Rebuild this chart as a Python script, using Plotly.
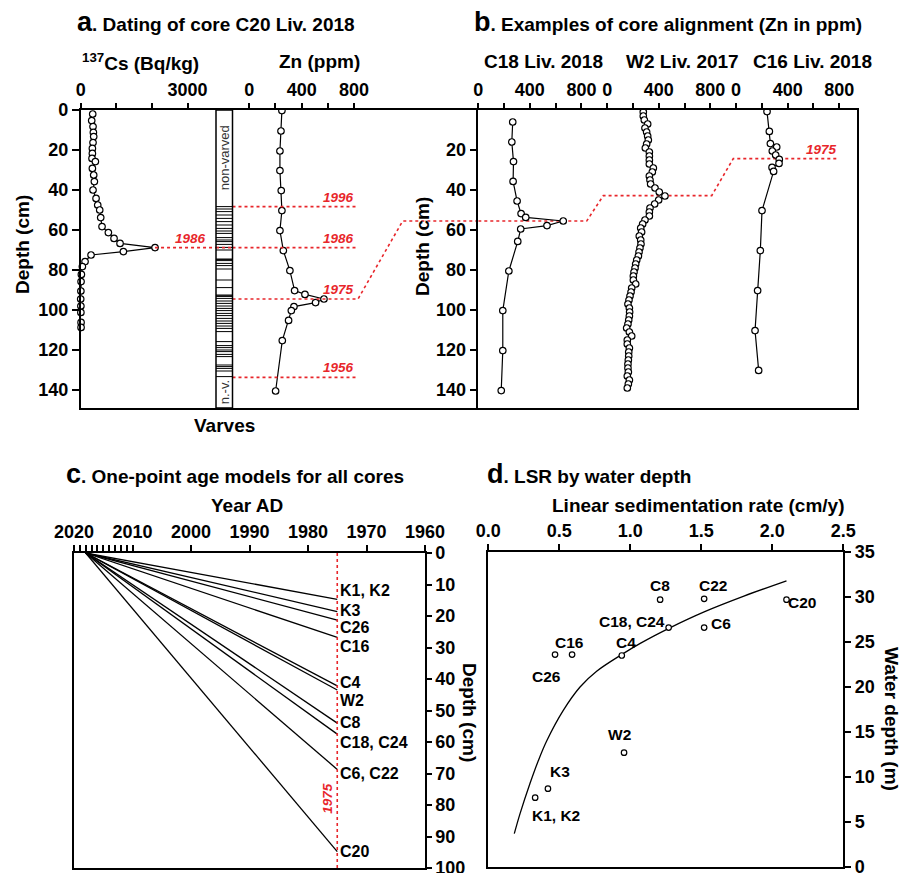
import plotly.graph_objects as go

W, H = 910, 873
FONT = "Liberation Sans, Arial, sans-serif"
RED = "#e8262b"


def px(x):
    return x / W


def py(y):
    return 1 - y / H


# ---------------- Panel a: core C20 ----------------
cs_depth = [2.0, 5.3, 8.3, 11.2, 13.3, 16.3, 19.2, 21.7, 24.2, 25.8, 29.2, 32.5, 35.8, 40.0,
            44.2, 47.5, 50.0, 53.8, 58.3, 61.3, 64.2, 66.7, 68.8, 70.8, 72.5, 75.8, 78.3,
            82.2, 85.8, 90.5, 94.5, 98.0, 101.2, 104.8, 106.2, 108.7, 113.8, 117.8]
cs_value = [337, 309, 346, 356, 365, 346, 328, 328, 318, 412, 328, 365, 384, 346,
            431, 478, 534, 562, 599, 777, 936, 1105, 2088, 1199, 290, 122, 47,
            19, 10, 5, 0, 5, 5, -20, 10, 10, -30, -30]

zn_a_depth = [0.3, 10.5, 20.5, 30.3, 40.3, 50.3, 60.3, 70.3, 80.3, 90.3, 92.2, 94.5, 96.3,
              98.3, 100.3, 105.2, 115.3, 140.5]
zn_a_value = [249, 242, 234, 234, 244, 249, 234, 260, 310, 346, 425, 570, 506,
              341, 321, 300, 252, 201]

varve_depths = [48.3, 49.5, 50.8, 52.5, 54.2, 55.8, 57.5, 59.2, 60.5, 61.7, 63.8, 65.0, 65.8,
                67.2, 68.7, 70.0, 74.5, 74.8, 75.3, 76.7, 77.8, 79.5, 85.0, 88.8, 92.5, 92.9,
                93.2, 94.2, 95.5, 96.7, 98.0, 99.2, 100.3, 101.7, 102.8, 104.2, 105.5, 106.7,
                108.0, 109.2, 110.8, 115.8, 117.8, 118.8, 120.0, 120.8, 122.2, 123.3, 127.5,
                128.3, 129.2, 130.5, 133.3]

# dated horizons in panel a (depth, label)
horizon_years = ["1996", "1986", "1975", "1956"]
horizon_depths = [48.3, 68.8, 94.5, 133.7]

# ---------------- Panel b: core alignment ----------------
c18_depth = [6.0, 16.0, 25.8, 35.7, 45.5, 51.8, 53.7, 55.5, 57.8, 59.5, 65.7, 80.5, 100.3, 120.3, 140.3]
c18_zn = [267, 260, 273, 270, 301, 332, 368, 659, 533, 329, 306, 237, 190, 190, 178]

w2_depth = [1, 3, 5, 7, 9, 11, 13, 15, 17, 19, 21, 23, 25, 27, 29, 31, 33, 35, 37, 39,
            41, 43, 45, 47, 49, 51, 53, 55, 57, 59, 61, 63, 65, 67, 69, 71, 73, 75, 77, 79,
            81, 83, 85, 87, 89, 91, 93, 95, 97, 99, 101, 103, 105, 107, 109, 111, 113, 115,
            117, 119, 121, 123, 125, 127, 129, 131, 133, 135, 137, 139]
w2_zn = [280, 280, 288, 314, 293, 306, 314, 319, 306, 296, 327, 327, 327, 327, 358, 350,
         327, 332, 337, 371, 404, 448, 399, 368, 332, 327, 327, 293, 275, 260, 267, 249,
         260, 262, 254, 247, 242, 229, 221, 216, 208, 203, 203, 221, 190, 185, 177, 169,
         161, 172, 174, 172, 167, 161, 151, 172, 190, 156, 156, 172, 167, 167, 164, 161,
         161, 164, 156, 172, 164, 156]

c16_depth = [0.8, 10.7, 16.8, 18.5, 20.5, 22.5, 24.7, 26.7, 28.7, 30.7, 50.3, 70.3, 90.3, 110.3, 130.2]
c16_zn = [240, 258, 266, 315, 281, 307, 335, 333, 279, 291, 201, 188, 167, 147, 175]

core_offsets = [0, 1000, 2000]  # each core shares one 0-1000 ppm slot on the axis
b_titles = ["C18 Liv. 2018", "W2 Liv. 2017", "C16 Liv. 2018"]
b_1975_depths = [55.5, 42.8, 24.3]

# ---------------- Panel c: one-point age models ----------------
core_names = ["K1, K2", "K3", "C26", "C16", "C4", "W2", "C8", "C18, C24", "C6, C22", "C20"]
depth_1975 = [14.7, 18.6, 21.3, 26.8, 42.2, 43.5, 54.0, 57.5, 68.7, 94.8]
label_depth = [12.0, 18.1, 23.7, 29.8, 41.2, 46.7, 53.9, 60.2, 69.9, 94.8]
core_year = 2018
marker_year = 1975

# ---------------- Panel d: LSR by water depth ----------------
d_names = ["K1, K2", "K3", "C26", "C16", "C4", "W2", "C8", "C18, C24", "C6", "C22", "C20"]
lsr = [0.33, 0.42, 0.47, 0.59, 0.94, 0.956, 1.21, 1.27, 1.52, 1.52, 2.10]
water_depth = [7.7, 8.7, 23.6, 23.6, 23.5, 12.7, 29.7, 26.6, 26.6, 29.8, 29.7]
d_label_x = [0.477, 0.505, 0.41, 0.575, 0.97, 0.927, 1.21, 1.01, 1.64, 1.585, 2.207]
d_label_y = [5.7, 10.6, 21.2, 25.0, 25.0, 14.7, 31.3, 27.3, 27.1, 31.3, 29.4]
fit_lsr = [0.183, 0.223, 0.294, 0.352, 0.411, 0.528, 0.646, 0.763, 0.944, 1.07, 1.275, 1.52, 1.8, 2.10]
fit_depth = [3.7, 5.9, 9.3, 11.8, 14.0, 17.4, 20.0, 21.75, 23.65, 24.85, 26.55, 28.35, 30.1, 31.8]

# ---------------------------------------------------------------
fig = go.Figure()

mk = dict(symbol="circle", size=6.5, color="white", line=dict(color="black", width=1.2))
ln = dict(color="black", width=1.2)
red_dot = dict(color=RED, width=1.6, dash="dot")

# panel a profiles
fig.add_trace(go.Scatter(x=cs_value, y=cs_depth, xaxis="x", yaxis="y", mode="lines+markers",
                         line=ln, marker=mk, cliponaxis=False))
vx, vy = [], []
for d in varve_depths:
    vx += [0, 1, None]
    vy += [d, d, None]
fig.add_trace(go.Scatter(x=vx, y=vy, xaxis="x2", yaxis="y", mode="lines",
                         line=dict(color="black", width=1)))
fig.add_trace(go.Scatter(x=zn_a_value, y=zn_a_depth, xaxis="x3", yaxis="y", mode="lines+markers",
                         line=ln, marker=mk))

# red horizons, panel a
zn_left, zn_end = -128, 815
for yr, d in zip(horizon_years, horizon_depths):
    if yr == "1975":
        continue
    fig.add_trace(go.Scatter(x=[zn_left, zn_end], y=[d, d], xaxis="x3", yaxis="y",
                             mode="lines", line=red_dot))
# 1986 also through Cs panel and varve column
fig.add_trace(go.Scatter(x=[max(cs_value), 3800], y=[68.8, 68.8], xaxis="x", yaxis="y",
                         mode="lines", line=red_dot))
fig.add_trace(go.Scatter(x=[0, 1], y=[68.8, 68.8], xaxis="x2", yaxis="y",
                         mode="lines", line=red_dot))
# 1975 connector from C20 to panel b
link_a_x = [zn_left, 830, 1171, 1760]
link_a_y = [94.5, 94.5, 55.5, 55.5]
fig.add_trace(go.Scatter(x=link_a_x, y=link_a_y, xaxis="x3", yaxis="y", mode="lines", line=red_dot))
link_b_x = [0, 841, 970, 1811, 1978, 2780]
link_b_y = [55.5, 55.5, 42.8, 42.8, 24.3, 24.3]
fig.add_trace(go.Scatter(x=link_b_x, y=link_b_y, xaxis="x4", yaxis="y2", mode="lines", line=red_dot))

# panel b profiles
for dep, val, off in zip([c18_depth, w2_depth, c16_depth], [c18_zn, w2_zn, c16_zn], core_offsets):
    fig.add_trace(go.Scatter(x=[v + off for v in val], y=dep, xaxis="x4", yaxis="y2",
                             mode="lines+markers", line=ln, marker=mk))

# panel c
cx, cy = [], []
for d in depth_1975:
    cx += [core_year, marker_year, None]
    cy += [0, d, None]
fig.add_trace(go.Scatter(x=cx, y=cy, xaxis="x5", yaxis="y3", mode="lines",
                         line=dict(color="black", width=1.3)))
fig.add_trace(go.Scatter(x=[marker_year, marker_year], y=[0, 100], xaxis="x5", yaxis="y3",
                         mode="lines", line=red_dot))

# panel d
fig.add_trace(go.Scatter(x=fit_lsr, y=fit_depth, xaxis="x6", yaxis="y4", mode="lines",
                         line=dict(color="black", width=1.3, shape="spline", smoothing=1.0)))
fig.add_trace(go.Scatter(x=lsr, y=water_depth, xaxis="x6", yaxis="y4", mode="markers",
                         marker=dict(symbol="circle", size=5.5, color="white",
                                     line=dict(color="black", width=1.2))))

# ---------------- axes ----------------
tickfont = dict(family=FONT, size=18, color="black", weight="bold")
base = dict(showgrid=False, zeroline=False, showline=True, linecolor="black", linewidth=1.5,
            ticks="outside", tickcolor="black", tickwidth=1.5, tickfont=tickfont, fixedrange=True,
            automargin=False, ticklabeloverflow="allow")

ya_dom = [py(408), py(110)]
b_tickvals = list(range(0, 2801, 200))
b_ticktext = []
for v in b_tickvals:
    r = v % 1000
    b_ticktext.append(str(r) if r in (0, 400, 800) else "")

c_tickvals = list(range(2020, 2009, -1)) + [2000, 1990, 1980, 1970, 1960]
c_ticktext = [str(v) if v % 10 == 0 else "" for v in c_tickvals]

fig.update_layout(
    width=W, height=H, margin=dict(l=0, r=0, t=0, b=0, pad=0, autoexpand=False),
    paper_bgcolor="white", plot_bgcolor="white", showlegend=False,
    font=dict(family=FONT, size=19, color="black", weight="bold"),
    xaxis=dict(base, domain=[px(80.7), px(216)], range=[0, 3800], side="top", anchor="y", mirror=True,
               tickvals=[0, 1000, 2000, 3000], ticktext=["0", "", "", "3000"], ticklen=5),
    xaxis2=dict(base, domain=[px(216), px(232.5)], range=[0, 1], side="top", anchor="y", mirror=True,
                showticklabels=False, ticks=""),
    xaxis3=dict(base, domain=[px(232.5), px(478.3)], range=[-128, 1748], side="top", anchor="y",
                mirror=True, tickvals=[0, 200, 400, 600, 800], ticktext=["0", "", "400", "", "800"],
                ticklen=5),
    yaxis=dict(base, domain=ya_dom, range=[149, 0], anchor="x", tickvals=list(range(0, 141, 20)),
               ticklen=7),
    xaxis4=dict(base, domain=[px(478.3), px(857)], range=[0, 2938], side="top", anchor="y2",
                mirror=True, tickvals=b_tickvals, ticktext=b_ticktext, ticklen=5),
    yaxis2=dict(base, domain=ya_dom, range=[149, 0], anchor="x4", mirror=True,
                tickvals=list(range(20, 141, 20)), ticklen=7),
    xaxis5=dict(base, domain=[px(74), px(425)], range=[2020, 1960], side="top", anchor="y3",
                mirror=True, tickvals=c_tickvals, ticktext=c_ticktext, ticklen=6),
    yaxis3=dict(base, domain=[py(868), py(553)], range=[100, 0], side="right", anchor="x5",
                mirror=True, tickvals=list(range(0, 101, 10)), ticklen=5),
    xaxis6=dict(base, domain=[px(488.3), px(843.3)], range=[0, 2.5], side="top", anchor="y4",
                mirror=True, tickvals=[0, 0.5, 1.0, 1.5, 2.0, 2.5],
                ticktext=["0.0", "0.5", "1.0", "1.5", "2.0", "2.5"], ticklen=6),
    yaxis4=dict(base, domain=[py(867), py(552)], range=[0, 35], side="right", anchor="x6",
                mirror=True, tickvals=list(range(0, 36, 5)), ticklen=6),
)

# ---------------- annotations ----------------
ann = []
bold19 = dict(family=FONT, size=19, color="black", weight="bold")


def paper_text(text, x, y, xanchor="center", angle=0, font=bold19):
    ann.append(dict(text=text, x=px(x), y=py(y), xref="paper", yref="paper", showarrow=False,
                    xanchor=xanchor, yanchor="middle", textangle=angle, font=font))


big = "<span style='font-size:27px'>%s</span>"
paper_text(big % "a" + ". Dating of core C20 Liv. 2018", 75, 22, "left")
paper_text(big % "b" + ". Examples of core alignment (Zn in ppm)", 472, 22, "left")
paper_text(big % "c" + ". One-point age models for all cores", 64, 474, "left")
paper_text(big % "d" + ". LSR by water depth", 485, 474, "left")

paper_text("<sup>137</sup>Cs (Bq/kg)", 140, 62)
paper_text("Zn (ppm)", 319, 62)
for t, xc in zip(b_titles, [543, 682, 812]):
    paper_text(t, xc, 62)
paper_text("Depth (cm)", 22, 245, angle=-90)
paper_text("Depth (cm)", 422, 247, angle=-90)
paper_text("Varves", 224, 425)
paper_text("Year AD", 247, 505)
paper_text("Depth (cm)", 470, 712, angle=90)
paper_text("Linear sedimentation rate (cm/y)", 698, 505)
paper_text("Water depth (m)", 892, 719, angle=90)

# varve column labels
small = dict(family=FONT, size=13, color="#333333", weight="normal")
ann.append(dict(text="non-varved", x=0.5, y=24, xref="x2", yref="y", showarrow=False,
                textangle=-90, font=small))
ann.append(dict(text="n.-v.", x=0.5, y=141, xref="x2", yref="y", showarrow=False,
                textangle=-90, font=small))

redfont = dict(family=FONT, size=13.5, color=RED, weight="bold", style="italic")
for yr, d in zip(horizon_years, horizon_depths):
    ann.append(dict(text=yr, x=zn_end, y=d, xref="x3", yref="y", showarrow=False,
                    xanchor="right", yanchor="bottom", font=redfont))
ann.append(dict(text="1986", x=3576, y=68.8, xref="x", yref="y", showarrow=False,
                xanchor="right", yanchor="bottom", font=redfont))
ann.append(dict(text="1975", x=2798, y=b_1975_depths[2], xref="x4", yref="y2", showarrow=False,
                xanchor="right", yanchor="bottom", font=redfont))
ann.append(dict(text="1975", x=marker_year, y=77.8, xref="x5", yref="y3", showarrow=False,
                xanchor="right", textangle=-90, xshift=-1,
                font=dict(family=FONT, size=13.5, color=RED, weight="bold", style="italic")))

lab16 = dict(family=FONT, size=16, color="black", weight="bold")
for name, d in zip(core_names, label_depth):
    ann.append(dict(text=name, x=marker_year, y=d, xref="x5", yref="y3", showarrow=False,
                    xanchor="left", xshift=1, font=lab16))

lab15 = dict(family=FONT, size=15.5, color="black", weight="bold")
for name, xl, yl in zip(d_names, d_label_x, d_label_y):
    ann.append(dict(text=name, x=xl, y=yl, xref="x6", yref="y4", showarrow=False, font=lab15))

fig.update_layout(annotations=ann)

# varve column frame
fig.add_shape(type="rect", xref="x2 domain", yref="y domain", x0=0, x1=1, y0=0, y1=1,
              line=dict(color="black", width=1.5))

fig.write_html("out.html")
